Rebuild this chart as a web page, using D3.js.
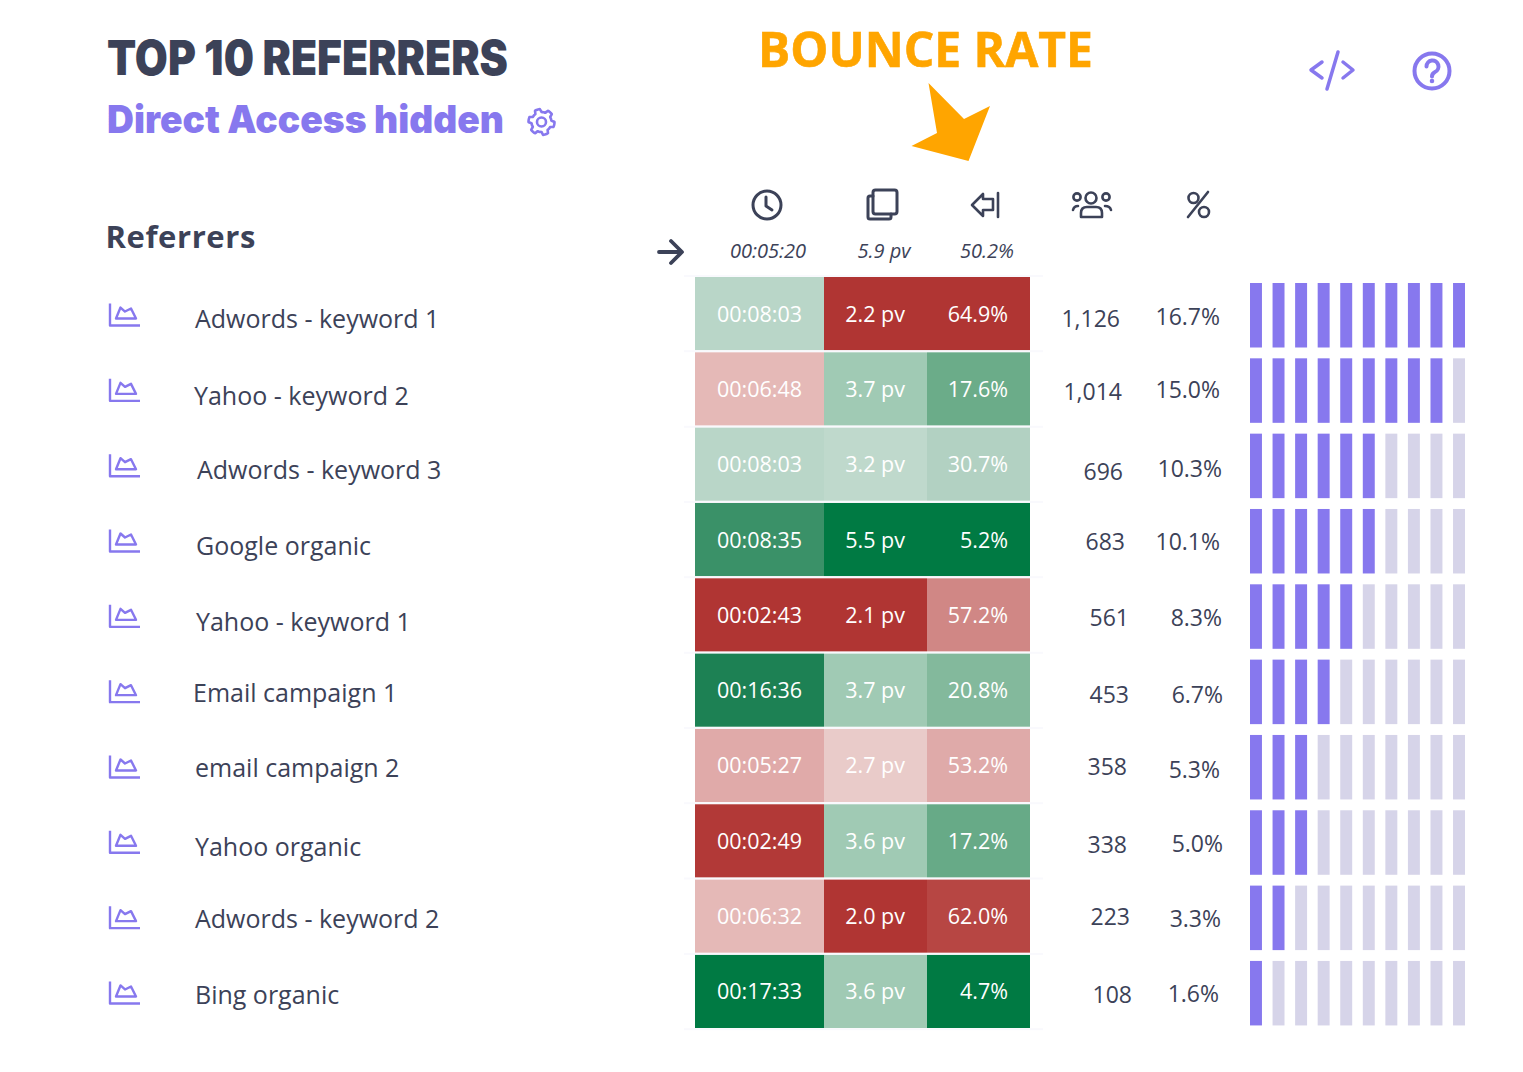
<!DOCTYPE html>
<html>
<head>
  <meta charset="UTF-8">
  <style>
    html, body { margin: 0; padding: 0; background: #fff; }
    svg { display: block; }
    text { font-family: "Open Sans", sans-serif; }
  </style>
</head>
<body>
<svg></svg>
<script src="https://d3js.org/d3.v7.min.js"></script>
<script>

let width = 1523, height = 1072;

// chart values
let referrers = ["Adwords - keyword 1", "Yahoo - keyword 2", "Adwords - keyword 3", "Google organic", "Yahoo - keyword 1",
    "Email campaign 1", "email campaign 2", "Yahoo organic", "Adwords - keyword 2", "Bing organic"];
let avgTime = ["00:08:03", "00:06:48", "00:08:03", "00:08:35", "00:02:43", "00:16:36", "00:05:27", "00:02:49", "00:06:32", "00:17:33"];
let pageViews = [2.2, 3.7, 3.2, 5.5, 2.1, 3.7, 2.7, 3.6, 2.0, 3.6];
let bounceRate = [64.9, 17.6, 30.7, 5.2, 57.2, 20.8, 53.2, 17.2, 62.0, 4.7];
let users = [1126, 1014, 696, 683, 561, 453, 358, 338, 223, 108];
let share = [16.7, 15.0, 10.3, 10.1, 8.3, 6.7, 5.3, 5.0, 3.3, 1.6];
let averages = ["00:05:20", "5.9 pv", "50.2%"];

// the text in the source sits a little off the row centre
let labelX = [195, 194, 197, 196, 196, 193, 195, 195, 195, 195];
let labelDy = [14.5, 16.2, 14.9, 15.6, 16.3, 12, 11.7, 15.4, 12.1, 12.8];
let usersRight = [1120, 1122, 1123, 1125, 1129, 1129, 1127, 1127, 1130, 1132];
let usersDy = [13.5, 11.2, 15.9, 10.6, 11.3, 13, 9.7, 12.4, 9.1, 11.8];
let shareRight = [1220, 1220, 1222, 1220, 1222, 1223, 1220, 1223, 1221, 1219];
let shareDy = [11.5, 9.2, 12.9, 10.6, 11.3, 13, 12.7, 11.4, 11.1, 10.8];

let dark = "#3c4258", purple = "#8778ee", paleBar = "#d6d4e9", orange = "#ffa500";

let svg = d3.select("svg")
    .attr("width", width)
    .attr("height", height)
    .attr("viewBox", "0 0 " + width + " " + height);

let seconds = t => {
    let p = t.split(":").map(Number);
    return p[0] * 3600 + p[1] * 60 + p[2];
};

// scales
let y = d3.scaleBand().domain(d3.range(10)).range([277, 1028]).paddingInner(0.03);
let colX = d3.scaleOrdinal().domain(["time", "pv", "bounce", "end"]).range([695, 824, 927, 1030]);
let barX = d3.scaleBand().domain(d3.range(10)).range([1250, 1465]).paddingInner(0.47);
let filled = d3.scaleLinear().domain([0, d3.max(share)]).range([0, 10]);

let timeColor = d3.scaleLinear()
    .domain([163, 327, 392, 408, 483, 515, 996, 1053])
    .range(["#b03533", "#e0aaa9", "#e5b9b7", "#e5b9b7", "#b9d6c8", "#3a9168", "#1d8154", "#007a43"])
    .clamp(true);
let pvColor = d3.scaleLinear()
    .domain([2.2, 2.7, 3.2, 3.6, 3.7, 5.5])
    .range(["#b03533", "#e9cbc9", "#bfd9cc", "#a0cab4", "#a0cab4", "#007a43"])
    .clamp(true);
let bounceColor = d3.scaleLinear()
    .domain([5.2, 17.4, 20.8, 30.7, 53.2, 57.2, 62.0, 64.9])
    .range(["#007a43", "#69ab88", "#83b99c", "#b2d1c2", "#dfaaa9", "#d08785", "#b74643", "#b03533"])
    .clamp(true);

// titles
svg.append("text").attr("x", 107).attr("y", 75)
    .attr("textLength", 401).attr("lengthAdjust", "spacingAndGlyphs")
    .style("font-family", "Inter").style("font-weight", 900).style("font-size", "48px")
    .attr("fill", dark).text("TOP 10 REFERRERS");
svg.append("text").attr("x", 107).attr("y", 133)
    .attr("textLength", 397).attr("lengthAdjust", "spacingAndGlyphs")
    .style("font-family", "Inter").style("font-weight", 900).style("font-size", "38px")
    .attr("fill", purple).text("Direct Access hidden");
svg.append("text").attr("x", 105.5).attr("y", 248)
    .style("font-weight", 700).style("font-size", "31px").style("letter-spacing", "0.6px")
    .attr("fill", dark).text("Referrers");
svg.append("text").attr("x", 758).attr("y", 67)
    .attr("textLength", 335).attr("lengthAdjust", "spacingAndGlyphs")
    .style("font-weight", 700).style("font-size", "49px")
    .attr("fill", orange).attr("stroke", orange).attr("stroke-width", 0.6).text("BOUNCE RATE");

svg.append("path")
    .attr("d", "M928.5,83L964,119L990,106L968.5,161L911.5,146L937,133Z")
    .attr("fill", orange);

// header icons
let icons = svg.append("g").attr("fill", "none").attr("stroke-linecap", "round").attr("stroke-linejoin", "round");

let darkIcons = icons.append("g").attr("stroke", dark).attr("stroke-width", 3);
darkIcons.append("circle").attr("cx", 767).attr("cy", 205).attr("r", 14);
darkIcons.append("path").attr("d", "M766,197V206L772,210");
darkIcons.append("rect").attr("x", 873).attr("y", 190).attr("width", 24).attr("height", 24).attr("rx", 2.5);
darkIcons.append("path").attr("d", "M873,196H870Q868,196 868,198V217Q868,219 870,219H889Q891,219 891,217V214");
darkIcons.append("path").attr("d", "M972,205L983,194V199H993V210H983V216Z").attr("stroke-width", 2.6);
darkIcons.append("path").attr("d", "M998,193V217").attr("stroke-width", 2.6);
let people = darkIcons.append("g").attr("stroke-width", 2.6);
people.append("circle").attr("cx", 1091).attr("cy", 198).attr("r", 5.5);
people.append("circle").attr("cx", 1077).attr("cy", 197).attr("r", 3.6);
people.append("circle").attr("cx", 1106).attr("cy", 197).attr("r", 3.6);
people.append("path").attr("d", "M1081,217V213Q1081,207 1087,207H1096Q1102,207 1102,213V217Z");
people.append("path").attr("d", "M1073,210Q1074,206 1078,206M1111,210Q1110,206 1105,206");
let percent = darkIcons.append("g").attr("stroke-width", 2.6);
percent.append("path").attr("d", "M1208,192L1188,217");
percent.append("circle").attr("cx", 1193.5).attr("cy", 198).attr("r", 5);
percent.append("circle").attr("cx", 1204).attr("cy", 212).attr("r", 5);
darkIcons.append("path").attr("d", "M659,252H681M671,241L682,252L671,263").attr("stroke-width", 3.8);

let purpleIcons = icons.append("g").attr("stroke", purple).attr("stroke-width", 4);
purpleIcons.append("path").attr("d", "M1322,62L1311,70L1322,78M1343,62L1353,70L1343,78M1338,52L1327,89").attr("stroke-width", 3.5);
purpleIcons.append("circle").attr("cx", 1432).attr("cy", 71).attr("r", 17.5);
purpleIcons.append("path").attr("d", "M1426.5,66.5A6,6 0 1 1 1435,72C1433,73 1432,74 1432,76.5");
purpleIcons.append("circle").attr("cx", 1432).attr("cy", 81).attr("r", 1.4).attr("fill", purple).attr("stroke-width", 1.8);

// settings gear, six teeth
let gearPts = d3.range(48).map(i => {
    let a = i / 48 * 2 * Math.PI;
    let tooth = ((i + 4) % 8) < 4;
    return [a, tooth ? 13 : 10];
});
purpleIcons.append("path")
    .attr("transform", "translate(541.5,122)")
    .attr("d", d3.lineRadial().curve(d3.curveCardinalClosed.tension(0.6))(gearPts))
    .attr("stroke-width", 2.6);
purpleIcons.append("circle").attr("cx", 541.5).attr("cy", 122).attr("r", 4.5).attr("stroke-width", 2.6);

// average row
let avgCols = [768, 884, 987];
svg.append("g").selectAll("text").data(averages).enter().append("text")
    .attr("x", (d, i) => avgCols[i])
    .attr("y", 258)
    .attr("text-anchor", "middle")
    .style("font-style", "italic").style("font-size", "20px")
    .attr("fill", dark).text(d => d);

// faint row separators behind the cells
svg.append("g").selectAll("line").data(d3.range(11)).enter().append("line")
    .attr("x1", 684).attr("x2", 1043)
    .attr("y1", i => y(0) + i * y.step() - 1)
    .attr("y2", i => y(0) + i * y.step() - 1)
    .attr("stroke", "#f9f9fd").attr("stroke-width", 2);

// referrer labels and icons
let names = svg.append("g").selectAll("g").data(referrers).enter().append("g");
names.append("text")
    .attr("x", (d, i) => labelX[i])
    .attr("y", (d, i) => y(i) + y.bandwidth() / 2 + labelDy[i])
    .style("font-size", "25px")
    .attr("fill", dark).text(d => d);
names.append("path")
    .attr("transform", (d, i) => "translate(0," + (y(i) + y.bandwidth() / 2 + 1) + ")")
    .attr("d", "M110,-11V11H140M116,4L120.5,-7L125,-3L131,-6L136,4Z")
    .attr("fill", "none").attr("stroke", purple).attr("stroke-width", 2.4).attr("stroke-linejoin", "round");

// heat cells, text right-aligned inside each cell
let columns = [
    { key: "time", next: "pv", values: avgTime, color: d => timeColor(seconds(d)), label: d => d },
    { key: "pv", next: "bounce", values: pageViews, color: d => pvColor(d), label: d => d.toFixed(1) + " pv" },
    { key: "bounce", next: "end", values: bounceRate, color: d => bounceColor(d), label: d => d.toFixed(1) + "%" }
];
columns.forEach(c => {
    let g = svg.append("g").selectAll("g").data(c.values).enter().append("g");
    g.append("rect")
        .attr("x", colX(c.key))
        .attr("y", (d, i) => y(i))
        .attr("width", colX(c.next) - colX(c.key))
        .attr("height", y.bandwidth())
        .attr("fill", c.color);
    g.append("text")
        .attr("x", colX(c.next) - 22)
        .attr("y", (d, i) => y(i) + y.bandwidth() / 2 + 8)
        .attr("text-anchor", "end")
        .style("font-size", "21.5px")
        .attr("fill", "#fff").text(c.label);
});

// users and share
svg.append("g").selectAll("text").data(users).enter().append("text")
    .attr("x", (d, i) => usersRight[i])
    .attr("y", (d, i) => y(i) + y.bandwidth() / 2 + usersDy[i])
    .attr("text-anchor", "end")
    .style("font-size", "23px")
    .attr("fill", dark).text(d => d3.format(",")(d));
svg.append("g").selectAll("text").data(share).enter().append("text")
    .attr("x", (d, i) => shareRight[i])
    .attr("y", (d, i) => y(i) + y.bandwidth() / 2 + shareDy[i])
    .attr("text-anchor", "end")
    .style("font-size", "23px")
    .attr("fill", dark).text(d => d.toFixed(1) + "%");

// ten-step bars, each row lit up to its share
let rows = svg.append("g").selectAll("g").data(share).enter().append("g")
    .attr("transform", (d, i) => "translate(0," + (y(i) + 6) + ")");
rows.selectAll("rect")
    .data(d => d3.range(10).map(i => ({ i: i, on: i < Math.round(filled(d)) })))
    .enter().append("rect")
    .attr("x", d => barX(d.i))
    .attr("width", barX.bandwidth())
    .attr("height", 64.5)
    .attr("fill", d => d.on ? purple : paleBar);

</script>
</body>
</html>
